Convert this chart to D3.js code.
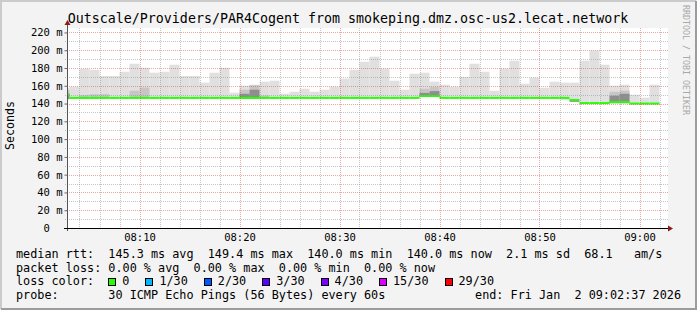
<!DOCTYPE html>
<html>
<head>
<meta charset="utf-8">
<script src="https://cdnjs.cloudflare.com/ajax/libs/d3/7.8.5/d3.min.js"></script>
<style>
  body { margin: 0; background: #ffffff; }
  svg text { font-family: "DejaVu Sans Mono", monospace; white-space: pre; }
</style>
</head>
<body>
<div id="chart"></div>
<script>
// one value per minute, first bar starts 08:02
var firstMinute = "08:02:00";
var medianRtt = [150.0,
  146.4, 146.4, 146.4, 146.4, 146.4, 146.4, 146.4, 146.4, 146.4, 146.4,
  146.4, 146.4, 146.4, 146.4, 146.4, 146.4, 146.4, 146.4, 146.4, 146.4,
  146.4, 146.4, 146.4, 146.4, 146.4, 146.4, 146.4, 146.4, 146.4, 146.4,
  146.4, 146.4, 146.4, 146.4, 146.4, 148.5, 148.5, 146.4, 146.4, 146.4,
  146.4, 146.4, 146.4, 146.4, 146.4, 146.4, 146.4, 146.4, 146.4, 146.4,
  144.0, 140.5, 140.5, 140.5, 141.7, 141.7, 140.0, 140.0, 140.0];
var pingMax = [157.6, 159.0, 179.0, 178.0, 171.0, 171.0, 175.8, 184.8, 180.3, 174.7,
  175.8, 183.7, 171.0, 171.0, 163.5, 174.7, 180.3, 152.2, 160.1, 161.2,
  164.6, 165.7, 151.1, 153.3, 156.7, 153.3, 155.6, 159.0, 168.0, 178.0,
  187.0, 192.7, 179.2, 165.7, 155.6, 173.6, 174.7, 164.6, 161.2, 159.0,
  170.0, 184.8, 175.8, 154.4, 179.2, 188.2, 162.3, 169.1, 157.8, 164.6,
  163.5, 163.5, 188.2, 199.5, 183.7, 160.1, 161.2, 150.0, 146.6, 161.2];
var pingMin = [145.0,
  145.6, 145.6, 145.6, 145.6, 145.6, 145.6, 145.6, 145.6, 145.6, 145.6,
  145.6, 145.6, 145.6, 145.6, 145.6, 145.6, 145.6, 145.6, 145.6, 145.6,
  145.6, 145.6, 145.6, 145.6, 145.6, 145.6, 145.6, 145.6, 145.6, 145.6,
  145.6, 145.6, 145.6, 145.6, 145.6, 147.6, 147.6, 145.6, 145.6, 145.6,
  145.6, 145.6, 145.6, 145.6, 145.6, 145.6, 145.6, 145.6, 145.6, 144.0,
  142.0, 139.6, 139.6, 139.6, 140.4, 140.4, 139.2, 139.2, 139.2];
// denser part of the smoke (null = none visible)
var smokeMid = [155.0, null, 149.5, 150.5, 150.5, null, null, 154.5, 158.0, null,
  null, null, null, null, null, null, null, null, 155.6, 160.5,
  149.0, null, null, null, null, null, null, null, null, null,
  null, null, null, null, null, null, 156.7, 158.6, null, null,
  null, null, null, null, null, null, null, null, null, null,
  null, null, null, null, null, 153.3, 154.5, null, null, null];
var smokeCore = [151.0, null, null, null, null, null, null, null, null, null,
  null, null, null, null, null, null, null, null, 151.0, 155.6,
  null, null, null, null, null, null, null, null, null, null,
  null, null, null, null, null, null, 152.0, 154.0, null, null,
  null, null, null, null, null, null, null, null, null, null,
  null, 143.0, null, null, null, 148.8, 151.0, null, null, null];

var yTicks = [0, 20, 40, 60, 80, 100, 120, 140, 160, 180, 200, 220];
var yMinor = [10, 30, 50, 70, 90, 110, 130, 150, 170, 190, 210];
var xTicks = ["08:10", "08:20", "08:30", "08:40", "08:50", "09:00"];
var xMinor = ["08:04", "08:06", "08:08", "08:12", "08:14", "08:16", "08:18", "08:22", "08:24",
  "08:26", "08:28", "08:32", "08:34", "08:36", "08:38", "08:42", "08:44", "08:46", "08:48",
  "08:52", "08:54", "08:56", "08:58", "09:02"];

var lossLabels = ["0", "1/30", "2/30", "3/30", "4/30", "15/30", "29/30"];
var lossColors = ["#26ff00", "#00b8ff", "#0059ff", "#5e00ff", "#7e00ff", "#dd00ff", "#ff0000"];

var titleText = "Outscale/Providers/PAR4Cogent from smokeping.dmz.osc-us2.lecat.network";
var legendRows = [
  "median rtt:  145.3 ms avg  149.4 ms max  140.0 ms min  140.0 ms now  2.1 ms sd  68.1   am/s",
  "packet loss: 0.00 % avg  0.00 % max  0.00 % min  0.00 % now",
  "loss color:",
  "probe:       30 ICMP Echo Pings (56 Bytes) every 60s"
];
var endText = "end: Fri Jan  2 09:02:37 2026";

var svgWidth = 697;
var svgHeight = 310;
var plot = { left: 67, top: 28, width: 600, height: 200 };

var parseTime = d3.timeParse("%H:%M:%S");
var parseHM = d3.timeParse("%H:%M");

var xScale = d3.scaleTime()
  .domain([parseTime("08:02:45"), parseTime("09:02:45")])
  .range([plot.left, plot.left + plot.width]);

var yScale = d3.scaleLinear()
  .domain([0, 225])
  .range([plot.top + plot.height, plot.top]);

var svg = d3.select("#chart")
  .append("svg")
  .attr("width", svgWidth)
  .attr("height", svgHeight);

// background + rrdtool style frame
svg.append("rect").attr("width", svgWidth).attr("height", svgHeight).attr("fill", "#f3f3f3");
svg.append("path").attr("d", "M1,309V1H696").attr("fill", "none").attr("stroke", "#cbcbcb").attr("stroke-width", 2);
svg.append("path").attr("d", "M1,309H696V1").attr("fill", "none").attr("stroke", "#9c9c9c").attr("stroke-width", 2);

svg.append("rect")
  .attr("x", plot.left).attr("y", plot.top)
  .attr("width", plot.width + 1).attr("height", plot.height)
  .attr("fill", "#ffffff");

svg.append("defs").append("clipPath").attr("id", "plotClip")
  .append("rect")
  .attr("x", plot.left).attr("y", plot.top)
  .attr("width", plot.width).attr("height", plot.height);

var t0 = parseTime(firstMinute);
var bars = medianRtt.map(function(m, i) {
  return {
    start: d3.timeMinute.offset(t0, i),
    end: d3.timeMinute.offset(t0, i + 1),
    median: m, max: pingMax[i], min: pingMin[i], mid: smokeMid[i], core: smokeCore[i]
  };
});

var dataGroup = svg.append("g").attr("clip-path", "url(#plotClip)");

function smokeLayer(data, topKey, color) {
  dataGroup.selectAll(null)
    .data(data.filter(function(d) { return d[topKey] != null; }))
    .enter()
    .append("rect")
    .attr("x", function(d) { return xScale(d.start); })
    .attr("width", function(d) { return xScale(d.end) - xScale(d.start); })
    .attr("y", function(d) { return yScale(d[topKey]); })
    .attr("height", function(d) { return yScale(d.min) - yScale(d[topKey]); })
    .attr("fill", color);
}
smokeLayer(bars, "max", "#e0e0e0");
smokeLayer(bars, "mid", "#c6c6c6");
smokeLayer(bars, "core", "#8e8e8e");

// median, coloured by loss (all 0 here)
dataGroup.selectAll(null)
  .data(bars)
  .enter()
  .append("rect")
  .attr("x", function(d) { return xScale(d.start); })
  .attr("width", function(d) { return xScale(d.end) - xScale(d.start); })
  .attr("y", function(d) { return yScale(d.median) - 1; })
  .attr("height", 2)
  .attr("fill", lossColors[0]);

// grid on top, rrdtool draws it semi transparent
var gridGroup = svg.append("g");
gridGroup.selectAll(null).data(yMinor).enter().append("line")
  .attr("x1", plot.left - 2).attr("x2", plot.left + plot.width + 1)
  .attr("y1", function(d) { return Math.round(yScale(d)) + 0.5; })
  .attr("y2", function(d) { return Math.round(yScale(d)) + 0.5; })
  .attr("stroke", "rgba(140,140,140,0.5)").attr("stroke-dasharray", "1,1");
gridGroup.selectAll(null).data(yTicks.slice(1)).enter().append("line")
  .attr("x1", plot.left).attr("x2", plot.left + plot.width + 1)
  .attr("y1", function(d) { return Math.round(yScale(d)) + 0.5; })
  .attr("y2", function(d) { return Math.round(yScale(d)) + 0.5; })
  .attr("stroke", "rgba(210,60,60,0.45)").attr("stroke-dasharray", "1,1");
gridGroup.selectAll(null).data(xMinor).enter().append("line")
  .attr("x1", function(d) { return Math.round(xScale(parseHM(d))) + 0.5; })
  .attr("x2", function(d) { return Math.round(xScale(parseHM(d))) + 0.5; })
  .attr("y1", plot.top).attr("y2", plot.top + plot.height + 2)
  .attr("stroke", "rgba(140,140,140,0.5)").attr("stroke-dasharray", "1,1");
gridGroup.selectAll(null).data(xTicks).enter().append("line")
  .attr("x1", function(d) { return Math.round(xScale(parseHM(d))) + 0.5; })
  .attr("x2", function(d) { return Math.round(xScale(parseHM(d))) + 0.5; })
  .attr("y1", plot.top).attr("y2", plot.top + plot.height + 2)
  .attr("stroke", "rgba(210,60,60,0.45)").attr("stroke-dasharray", "1,1");

// axes
var leftAxis = d3.axisLeft(yScale)
  .tickValues(yTicks)
  .tickFormat(function(d) { return d === 0 ? "0  " : d + " m"; })
  .tickSize(3)
  .tickPadding(2);

var yAxisG = svg.append("g")
  .attr("transform", "translate(" + (plot.left + 0.5) + ",0)")
  .call(leftAxis);
yAxisG.select(".domain").remove();
yAxisG.selectAll(".tick line").attr("stroke", "#666");
yAxisG.selectAll("text")
  .attr("font-family", "DejaVu Sans Mono").attr("font-size", "10.5px").attr("fill", "#000");

var bottomAxis = d3.axisBottom(xScale)
  .tickValues(xTicks.map(function(d) { return parseHM(d); }))
  .tickFormat(d3.timeFormat("%H:%M"))
  .tickSize(0)
  .tickPadding(5.5);

var xAxisG = svg.append("g")
  .attr("transform", "translate(0," + (plot.top + plot.height) + ")")
  .call(bottomAxis);
xAxisG.select(".domain").remove();
xAxisG.selectAll("text")
  .attr("font-family", "DejaVu Sans Mono").attr("font-size", "10.5px").attr("fill", "#000");

// axis lines with arrows
svg.append("line")
  .attr("x1", plot.left + 0.5).attr("x2", plot.left + 0.5)
  .attr("y1", plot.top + plot.height + 3).attr("y2", plot.top - 4)
  .attr("stroke", "#555");
svg.append("line")
  .attr("x1", plot.left - 3).attr("x2", plot.left + plot.width + 3)
  .attr("y1", plot.top + plot.height + 0.5).attr("y2", plot.top + plot.height + 0.5)
  .attr("stroke", "#000");
svg.append("path")
  .attr("d", "M" + (plot.left - 2.5) + "," + (plot.top - 3) + "L" + (plot.left + 0.5) + "," + (plot.top - 8) + "L" + (plot.left + 3.5) + "," + (plot.top - 3) + "Z")
  .attr("fill", "#8b1c1c");
svg.append("path")
  .attr("d", "M" + (plot.left + plot.width + 1) + "," + (plot.top + plot.height - 2.5) + "L" + (plot.left + plot.width + 6) + "," + (plot.top + plot.height + 0.5) + "L" + (plot.left + plot.width + 1) + "," + (plot.top + plot.height + 3.5) + "Z")
  .attr("fill", "#8b1c1c");

// title and labels
svg.append("text")
  .attr("x", 348).attr("y", 23)
  .attr("text-anchor", "middle")
  .attr("font-size", "13.3px")
  .text(titleText);

svg.append("text")
  .attr("transform", "translate(14,125.5) rotate(-90)")
  .attr("text-anchor", "middle")
  .attr("font-size", "11.6px")
  .text("Seconds");

svg.append("text")
  .attr("transform", "translate(683,5) rotate(90)")
  .attr("font-size", "8.3px")
  .attr("fill", "#a8a8a8")
  .text("RRDTOOL / TOBI OETIKER");

// legend
var legendY = [258, 271.5, 285, 298.5];
svg.selectAll(null)
  .data(legendRows)
  .enter()
  .append("text")
  .attr("x", 16)
  .attr("y", function(d, i) { return legendY[i]; })
  .attr("font-size", "11.8px")
  .text(function(d) { return d; });

svg.append("text")
  .attr("x", 681).attr("y", legendY[3])
  .attr("text-anchor", "end")
  .attr("font-size", "11.8px")
  .text(endText);

var charW = 7.1;
var lossItems = [];
var bx = 108.3;
lossLabels.forEach(function(label, i) {
  lossItems.push({ label: label, color: lossColors[i], x: bx });
  bx = bx + 14 + label.length * charW + 16;
});

var lossG = svg.append("g");
lossG.selectAll("rect")
  .data(lossItems)
  .enter()
  .append("rect")
  .attr("x", function(d) { return Math.round(d.x) + 0.5; })
  .attr("y", legendY[2] - 6.5)
  .attr("width", 7).attr("height", 7)
  .attr("fill", function(d) { return d.color; })
  .attr("stroke", "#000");
lossG.selectAll("text")
  .data(lossItems)
  .enter()
  .append("text")
  .attr("x", function(d) { return d.x + 14; })
  .attr("y", legendY[2])
  .attr("font-size", "11.8px")
  .text(function(d) { return d.label; });
</script>
</body>
</html>
